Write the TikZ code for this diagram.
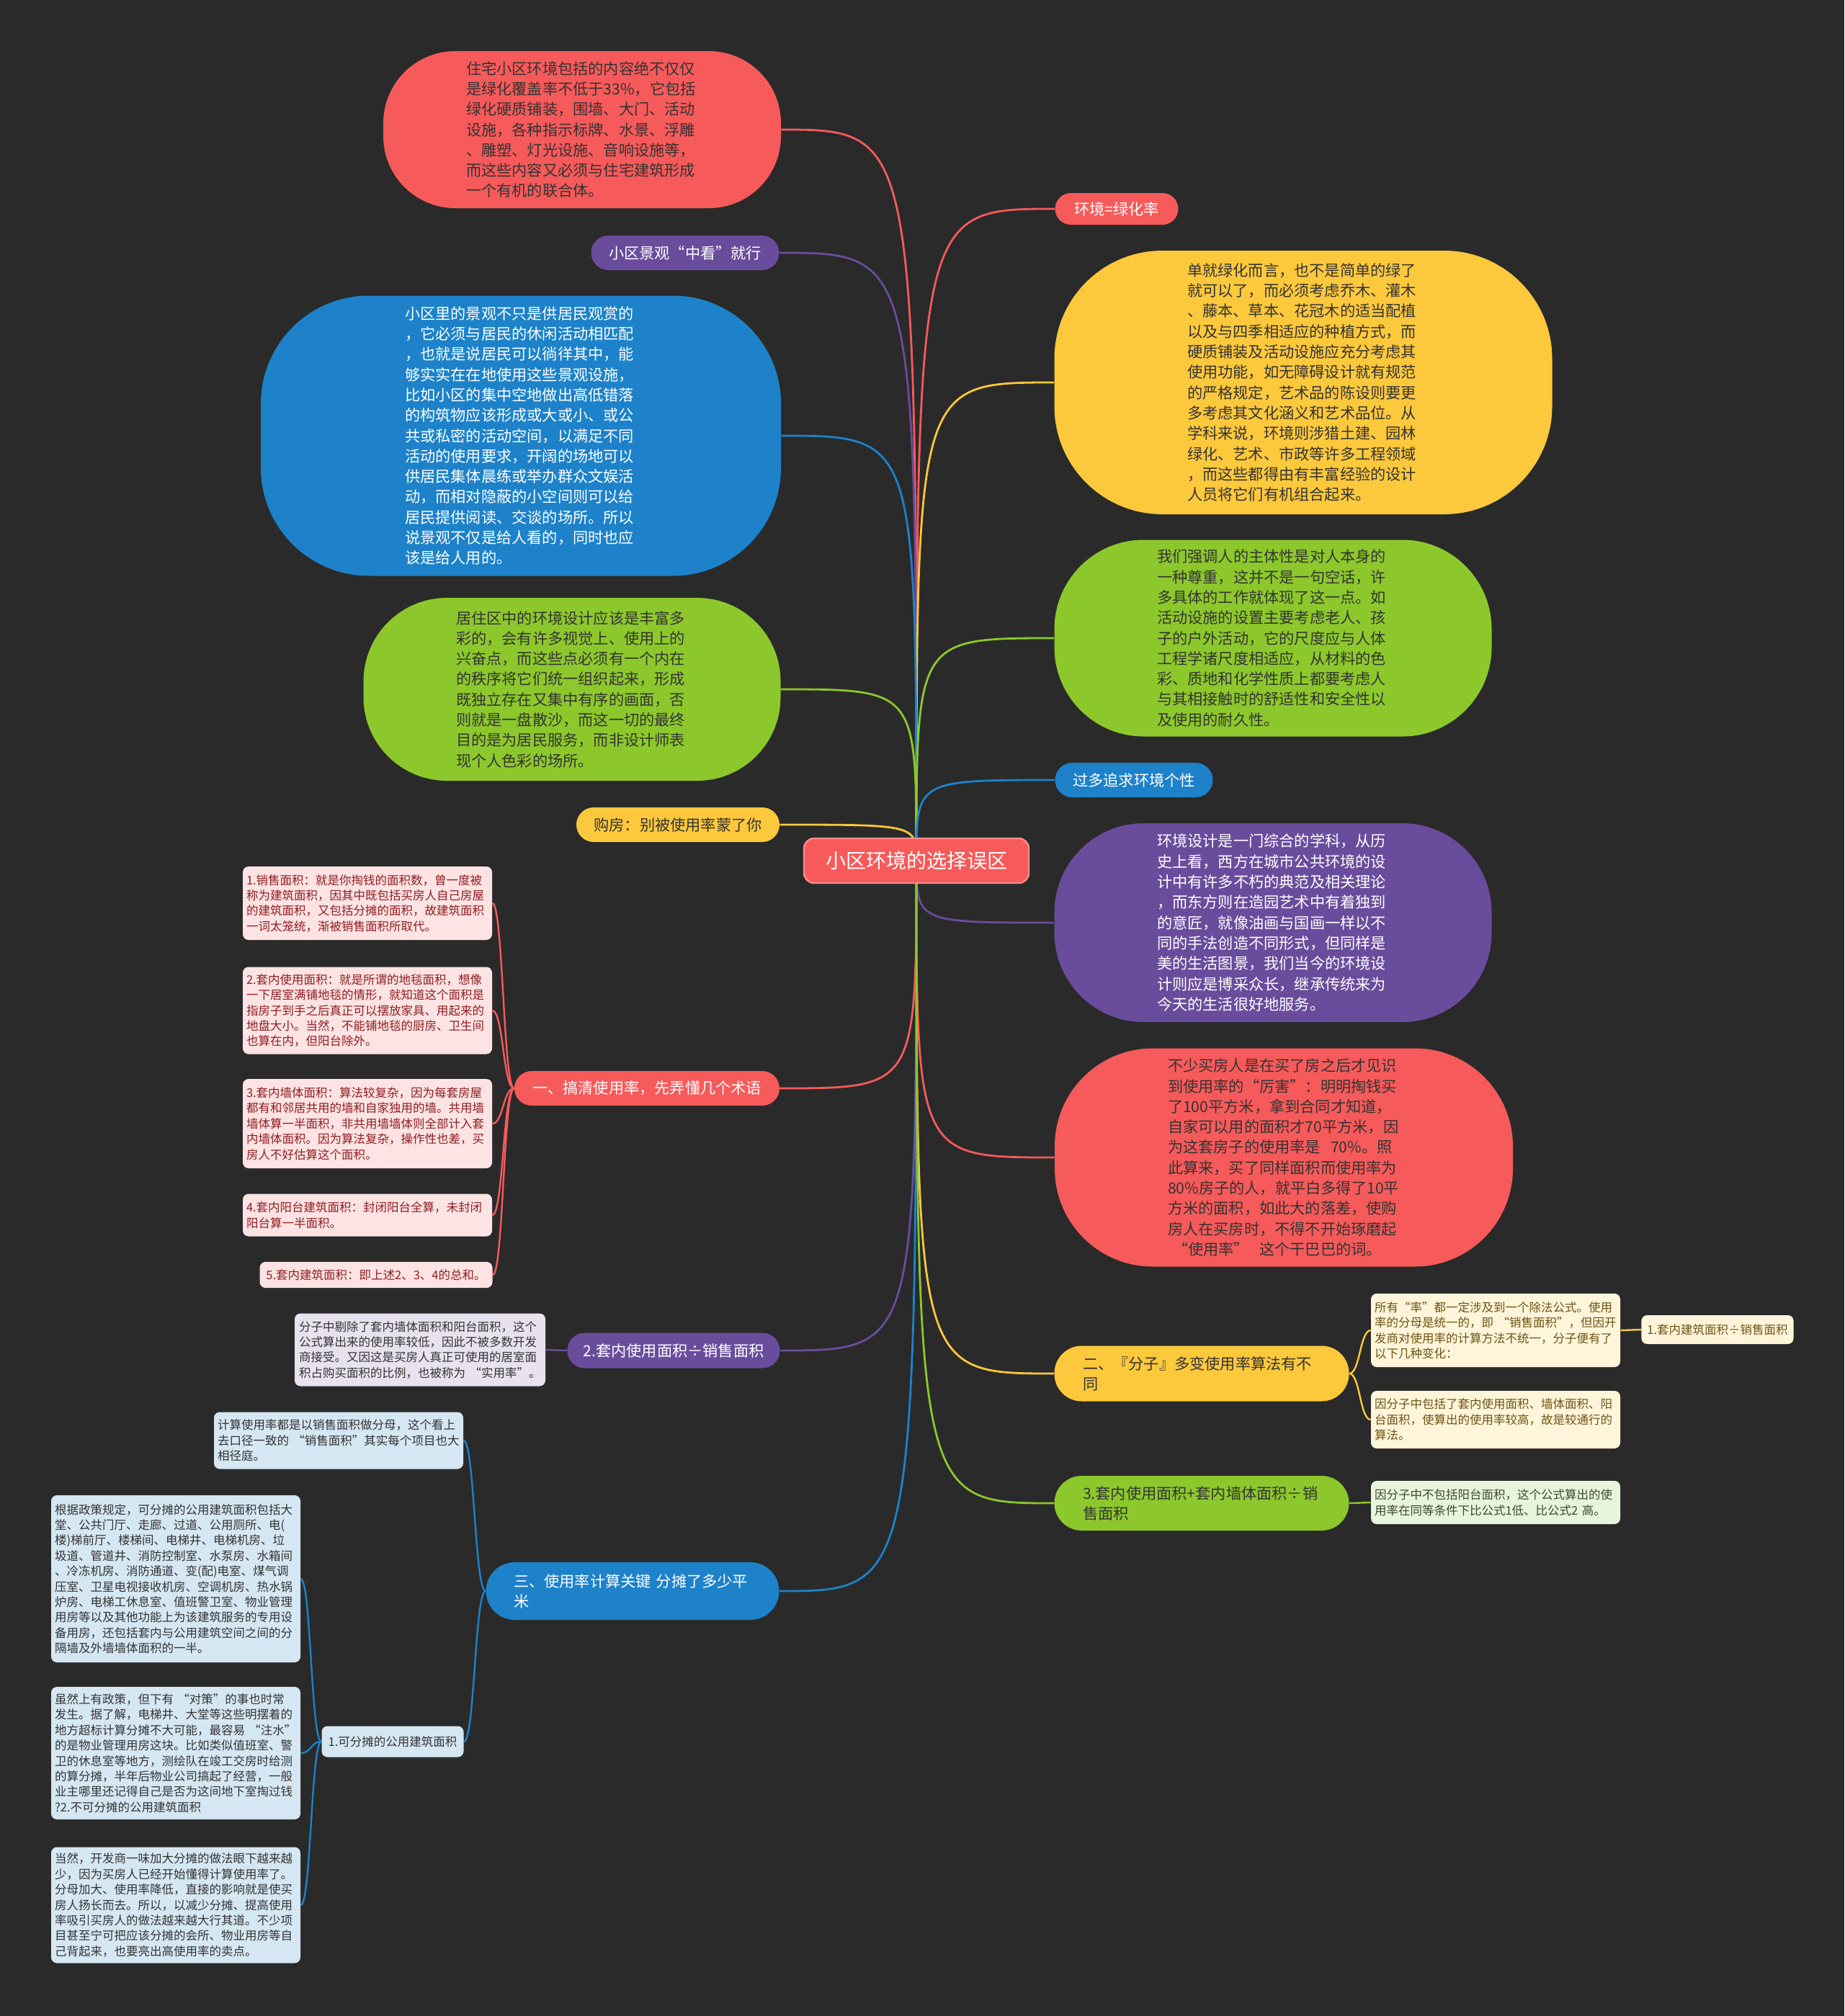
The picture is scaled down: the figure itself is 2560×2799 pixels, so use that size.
\documentclass[tikz,border=0pt]{standalone}
\usepackage{fontspec}
\setmainfont{Noto Sans CJK SC}
\usetikzlibrary{calc}
\definecolor{bgc}{HTML}{2A2A2A}
\definecolor{cred}{HTML}{F75A5A}
\definecolor{cpur}{HTML}{6A4C9C}
\definecolor{cblu}{HTML}{1D82C9}
\definecolor{cgrn}{HTML}{8CC82B}
\definecolor{cyel}{HTML}{FCC83C}
\definecolor{tdark}{HTML}{333333}
\definecolor{lpink}{HTML}{FDE3E3}
\definecolor{tpink}{HTML}{8E1E22}
\definecolor{lblue}{HTML}{D5E7F3}
\definecolor{lyel}{HTML}{FEF5DA}
\definecolor{tyel}{HTML}{6E5414}
\definecolor{lgrn}{HTML}{E8F4DB}
\definecolor{tgrn}{HTML}{3E4A2C}
\definecolor{lpur}{HTML}{E8E2EF}
\pgfdeclarelayer{back}\pgfdeclarelayer{links}\pgfsetlayers{back,links,main}
\tikzset{
  bub/.style={align=left, inner sep=2pt, text width=161pt, font=\fontsize{10.6}{14.15}\selectfont},
  headnode/.style={align=center, inner sep=2pt, rounded corners=12pt, font=\fontsize{10.6}{13.5}\selectfont},
  headtwo/.style={align=left, inner sep=2pt, text width=165pt, rounded corners=19pt, font=\fontsize{10.6}{14}\selectfont},
  leafbox/.style={align=left, inner xsep=2.5pt, inner ysep=2pt, text width=168pt, rounded corners=4pt, font=\fontsize{8.25}{10.7}\selectfont},
  leafone/.style={align=center, inner xsep=4pt, inner ysep=2pt, rounded corners=4pt, font=\fontsize{8.25}{10.7}\selectfont},
  rootline/.style={line width=1.4pt},
  subline/.style={line width=1.2pt},
}
\newcommand\rootc[2]{\draw[rootline,#1] (root.center) .. controls (root.center |- #2) .. (#2);}
\newcommand\brk[3]{\draw[subline,#1] (#2) .. controls ($(#2)!0.5!(#3 |- #2)$) and ($(#3)!0.5!(#2 |- #3)$) .. (#3);}
\begin{document}
\begin{tikzpicture}[x=0.5pt,y=-0.5pt]
\begin{pgfonlayer}{back}
\fill[bgc] (0,0) rectangle (2560,2799);
\end{pgfonlayer}
\useasboundingbox (0,0) rectangle (2560,2799);

% root
\node[fill=cred, draw=cred!70!white, line width=1.2pt, rounded corners=7pt, minimum width=156pt, minimum height=31pt, text=white, font=\fontsize{14}{16}\selectfont] (root) at (1272,1195) {小区环境的选择误区};

% big bubbles
\node[bub, fill=cred, text=tdark, minimum width=276pt, minimum height=109pt, rounded corners=50pt] (r1) at (808,180) {住宅小区环境包括的内容绝不仅仅\\是绿化覆盖率不低于33\%，它包括\\绿化硬质铺装，围墙、大门、活动\\设施，各种指示标牌、水景、浮雕\\、雕塑、灯光设施、音响设施等，\\而这些内容又必须与住宅建筑形成\\一个有机的联合体。};

\node[bub, fill=cblu, text=white, minimum width=361pt, minimum height=194.5pt, rounded corners=75pt] (b1) at (723,605) {小区里的景观不只是供居民观赏的\\，它必须与居民的休闲活动相匹配\\，也就是说居民可以徜徉其中，能\\够实实在在地使用这些景观设施，\\比如小区的集中空地做出高低错落\\的构筑物应该形成或大或小、或公\\共或私密的活动空间，以满足不同\\活动的使用要求，开阔的场地可以\\供居民集体晨练或举办群众文娱活\\动，而相对隐蔽的小空间则可以给\\居民提供阅读、交谈的场所。所以\\说景观不仅是给人看的，同时也应\\该是给人用的。};

\node[bub, fill=cgrn, text=tdark, minimum width=289.5pt, minimum height=127pt, rounded corners=58pt] (g2) at (794,957) {居住区中的环境设计应该是丰富多\\彩的，会有许多视觉上、使用上的\\兴奋点，而这些点必须有一个内在\\的秩序将它们统一组织起来，形成\\既独立存在又集中有序的画面，否\\则就是一盘散沙，而这一切的最终\\目的是为居民服务，而非设计师表\\现个人色彩的场所。};

\node[bub, fill=cyel, text=tdark, minimum width=345.5pt, minimum height=183pt, rounded corners=75pt] (y1) at (1809,531) {单就绿化而言，也不是简单的绿了\\就可以了，而必须考虑乔木、灌木\\、藤本、草本、花冠木的适当配植\\以及与四季相适应的种植方式，而\\硬质铺装及活动设施应充分考虑其\\使用功能，如无障碍设计就有规范\\的严格规定，艺术品的陈设则要更\\多考虑其文化涵义和艺术品位。从\\学科来说，环境则涉猎土建、园林\\绿化、艺术、市政等许多工程领域\\，而这些都得由有丰富经验的设计\\人员将它们有机组合起来。};

\node[bub, fill=cgrn, text=tdark, minimum width=303.5pt, minimum height=136.5pt, rounded corners=62pt] (g1) at (1767,886) {我们强调人的主体性是对人本身的\\一种尊重，这并不是一句空话，许\\多具体的工作就体现了这一点。如\\活动设施的设置主要考虑老人、孩\\子的户外活动，它的尺度应与人体\\工程学诸尺度相适应，从材料的色\\彩、质地和化学性质上都要考虑人\\与其相接触时的舒适性和安全性以\\及使用的耐久性。};

\node[bub, fill=cpur, text=white, minimum width=303.5pt, minimum height=138pt, rounded corners=62pt] (p1) at (1767,1281) {环境设计是一门综合的学科，从历\\史上看，西方在城市公共环境的设\\计中有许多不朽的典范及相关理论\\，而东方则在造园艺术中有着独到\\的意匠，就像油画与国画一样以不\\同的手法创造不同形式，但同样是\\美的生活图景，我们当今的环境设\\计则应是博采众长，继承传统来为\\今天的生活很好地服务。};

\node[bub, fill=cred, text=tdark, minimum width=318pt, minimum height=151.5pt, rounded corners=68pt] (r2) at (1782,1607) {不少买房人是在买了房之后才见识\\到使用率的“厉害”：明明掏钱买\\了100平方米，拿到合同才知道，\\自家可以用的面积才70平方米，因\\为这套房子的使用率是~~70\%。照\\此算来，买了同样面积而使用率为\\80\%房子的人，就平白多得了10平\\方米的面积，如此大的落差，使购\\房人在买房时，不得不开始琢磨起\\\ “使用率”~~这个干巴巴的词。};

% headings
\node[headnode, fill=cred, text=white, minimum width=85.5pt, minimum height=22pt, rounded corners=11pt] (hj) at (1550,290) {环境=绿化率};
\node[headnode, fill=cpur, text=white, minimum width=130.5pt, minimum height=24pt] (jg) at (951,351) {小区景观“中看”就行};
\node[headnode, fill=cblu, text=white, minimum width=109.5pt, minimum height=24pt] (gd) at (1574,1083) {过多追求环境个性};
\node[headnode, fill=cyel, text=tdark, minimum width=141pt, minimum height=24pt] (gf) at (941,1145) {购房：别被使用率蒙了你};
\node[headnode, fill=cred, text=white, minimum width=184pt, minimum height=24pt] (h1) at (898,1511) {一、搞清使用率，先弄懂几个术语};
\node[headnode, fill=cpur, text=white, minimum width=147.5pt, minimum height=24.5pt] (h2) at (935,1875) {2.套内使用面积÷销售面积};
\node[headtwo, fill=cblu, text=white, minimum width=203.5pt, minimum height=40pt, rounded corners=20pt] (h3) at (878,2209) {三、使用率计算关键~分摊了多少平\\米};
\node[headtwo, fill=cyel, text=tdark, minimum width=204.5pt, minimum height=38.5pt] (h4) at (1668,1907) {二、『分子』多变使用率算法有不\\同};
\node[headtwo, fill=cgrn, text=tdark, minimum width=204.5pt, minimum height=38pt] (h5) at (1668,2087) {3.套内使用面积+套内墙体面积÷销\\售面积};

% leaves under h1
\node[leafbox, fill=lpink, text=tpink, minimum width=173pt, minimum height=51pt] (s1) at (510,1254) {1.销售面积：就是你掏钱的面积数，曾一度被\\称为建筑面积，因其中既包括买房人自己房屋\\的建筑面积，又包括分摊的面积，故建筑面积\\一词太笼统，渐被销售面积所取代。};
\node[leafbox, fill=lpink, text=tpink, minimum width=173pt, minimum height=60.5pt] (s2) at (510,1403) {2.套内使用面积：就是所谓的地毯面积，想像\\一下居室满铺地毯的情形，就知道这个面积是\\指房子到手之后真正可以摆放家具、用起来的\\地盘大小。当然，不能铺地毯的厨房、卫生间\\也算在内，但阳台除外。};
\node[leafbox, fill=lpink, text=tpink, minimum width=173pt, minimum height=62pt] (s3) at (510,1560) {3.套内墙体面积：算法较复杂，因为每套房屋\\都有和邻居共用的墙和自家独用的墙。共用墙\\墙体算一半面积，非共用墙墙体则全部计入套\\内墙体面积。因为算法复杂，操作性也差，买\\房人不好估算这个面积。};
\node[leafbox, fill=lpink, text=tpink, minimum width=173pt, minimum height=29.5pt] (s4) at (510,1687) {4.套内阳台建筑面积：封闭阳台全算，未封闭\\阳台算一半面积。};
\node[leafone, fill=lpink, text=tpink, minimum width=161.5pt, minimum height=18pt] (s5) at (522,1770) {5.套内建筑面积：即上述2、3、4的总和。};

% leaf under h2
\node[leafbox, fill=lpur, text=tdark, minimum width=174pt, minimum height=50.5pt] (fz) at (583,1874) {分子中剔除了套内墙体面积和阳台面积，这个\\公式算出来的使用率较低，因此不被多数开发\\商接受。又因这是买房人真正可使用的居室面\\积占购买面积的比例，也被称为~“实用率”。};

% leaves under h3
\node[leafbox, fill=lblue, text=tdark, minimum width=172.5pt, minimum height=39.5pt] (js) at (470,2000) {计算使用率都是以销售面积做分母，这个看上\\去口径一致的~“销售面积”其实每个项目也大\\相径庭。};
\node[leafone, fill=lblue, text=tdark, minimum width=98.5pt, minimum height=21.5pt] (kf) at (545,2418) {1.可分摊的公用建筑面积};
\node[leafbox, fill=lblue, text=tdark, minimum width=172.5pt, minimum height=116pt] (pa) at (244,2192) {根据政策规定，可分摊的公用建筑面积包括大\\堂、公共门厅、走廊、过道、公用厕所、电(\\楼)梯前厅、楼梯间、电梯井、电梯机房、垃\\圾道、管道井、消防控制室、水泵房、水箱间\\、冷冻机房、消防通道、变(配)电室、煤气调\\压室、卫星电视接收机房、空调机房、热水锅\\炉房、电梯工休息室、值班警卫室、物业管理\\用房等以及其他功能上为该建筑服务的专用设\\备用房，还包括套内与公用建筑空间之间的分\\隔墙及外墙墙体面积的一半。};
\node[leafbox, fill=lblue, text=tdark, minimum width=172.5pt, minimum height=92pt] (pb) at (244,2434) {虽然上有政策，但下有~“对策”的事也时常\\发生。据了解，电梯井、大堂等这些明摆着的\\地方超标计算分摊不大可能，最容易~“注水”\\的是物业管理用房这块。比如类似值班室、警\\卫的休息室等地方，测绘队在竣工交房时给测\\的算分摊，半年后物业公司搞起了经营，一般\\业主哪里还记得自己是否为这间地下室掏过钱\\?2.不可分摊的公用建筑面积};
\node[leafbox, fill=lblue, text=tdark, minimum width=172.5pt, minimum height=80.5pt] (pc) at (244,2645) {当然，开发商一味加大分摊的做法眼下越来越\\少，因为买房人已经开始懂得计算使用率了。\\分母加大、使用率降低，直接的影响就是使买\\房人扬长而去。所以，以减少分摊、提高使用\\率吸引买房人的做法越来越大行其道。不少项\\目甚至宁可把应该分摊的会所、物业用房等自\\己背起来，也要亮出高使用率的卖点。};

% right leaves
\node[leafbox, fill=lyel, text=tyel, minimum width=173pt, minimum height=51pt] (sy) at (2076,1847) {所有“率”都一定涉及到一个除法公式。使用\\率的分母是统一的，即~“销售面积”，但因开\\发商对使用率的计算方法不统一，分子便有了\\以下几种变化：};
\node[leafone, fill=lyel, text=tyel, minimum width=102.5pt, minimum height=20pt] (tn) at (2384,1846) {1.套内建筑面积÷销售面积};
\node[leafbox, fill=lyel, text=tyel, minimum width=173pt, minimum height=40pt] (yb) at (2076,1971) {因分子中包括了套内使用面积、墙体面积、阳\\台面积，使算出的使用率较高，故是较通行的\\算法。};
\node[leafbox, fill=lgrn, text=tgrn, minimum width=173pt, minimum height=30pt] (yn) at (2076,2086) {因分子中不包括阳台面积，这个公式算出的使\\用率在同等条件下比公式1低、比公式2~高。};

% connectors
\begin{pgfonlayer}{links}
\rootc{cred}{r1.east}
\rootc{cred}{hj.west}
\rootc{cpur}{jg.east}
\rootc{cyel}{y1.west}
\rootc{cblu}{b1.east}
\rootc{cgrn}{g1.west}
\rootc{cgrn}{g2.east}
\rootc{cblu}{gd.west}
\rootc{cyel}{gf.east}
\rootc{cpur}{p1.west}
\rootc{cred}{h1.east}
\rootc{cred}{r2.west}
\rootc{cpur}{h2.east}
\rootc{cyel}{h4.west}
\rootc{cblu}{h3.east}
\rootc{cgrn}{h5.west}
\brk{cred}{h1.west}{s1.east}
\brk{cred}{h1.west}{s2.east}
\brk{cred}{h1.west}{s3.east}
\brk{cred}{h1.west}{s4.east}
\brk{cred}{h1.west}{s5.east}
\brk{cpur}{h2.west}{fz.east}
\brk{cblu}{h3.west}{js.east}
\brk{cblu}{h3.west}{kf.east}
\brk{cblu}{kf.west}{pa.east}
\brk{cblu}{kf.west}{pb.east}
\brk{cblu}{kf.west}{pc.east}
\brk{cyel}{h4.east}{sy.west}
\brk{cyel}{h4.east}{yb.west}
\brk{cyel}{sy.east}{tn.west}
\brk{cgrn}{h5.east}{yn.west}
\end{pgfonlayer}
\end{tikzpicture}
\end{document}
